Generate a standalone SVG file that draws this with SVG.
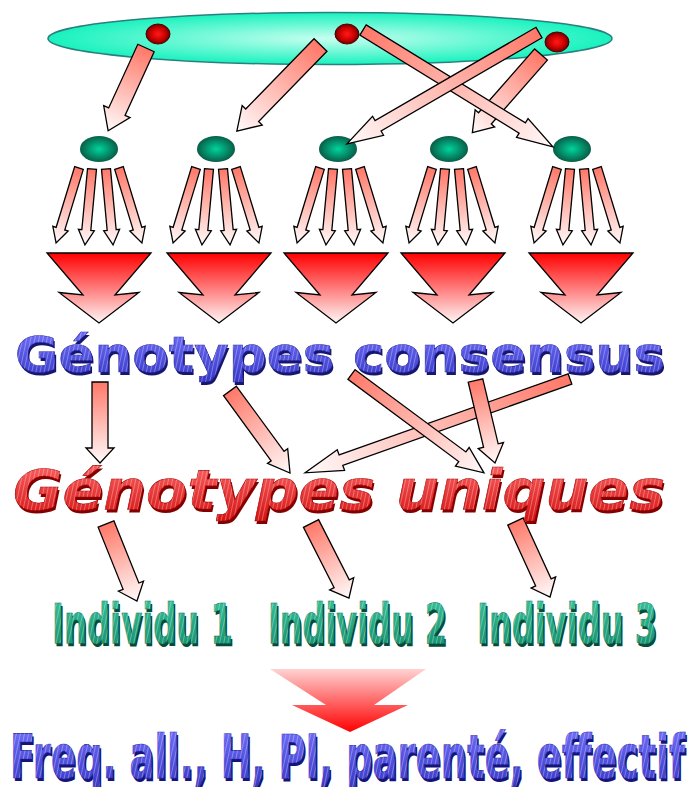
<svg xmlns="http://www.w3.org/2000/svg" width="689" height="787" viewBox="0 0 689 787">
  <style>
    .arrow { fill: url(#gArrow); stroke: #000; stroke-width: 1.3; stroke-linejoin: miter; }
    .chev { fill: url(#gChevron); stroke: #000; stroke-width: 1.3; stroke-linejoin: miter; }
    .allele { fill: url(#gAllele); stroke: #4a0000; stroke-width: 1; }
    .sample { fill: url(#gSample); }
    .wa { font-family: "DejaVu Sans", "Liberation Sans", sans-serif; font-weight: bold; }
  </style>
  <defs>
    <linearGradient id="gArrow" x1="0" y1="0" x2="1" y2="0">
      <stop offset="0" stop-color="#ff7868"/>
      <stop offset="1" stop-color="#fffafa"/>
    </linearGradient>
    <linearGradient id="gChevron" x1="0" y1="0" x2="0" y2="1">
      <stop offset="0" stop-color="#ff0000"/>
      <stop offset="1" stop-color="#fff6f6"/>
    </linearGradient>
    <linearGradient id="gFinal" x1="0" y1="0" x2="0" y2="1">
      <stop offset="0" stop-color="#ffd2d2"/>
      <stop offset="1" stop-color="#ff0000"/>
    </linearGradient>
    <radialGradient id="gPool" cx="0.5" cy="0.5" r="0.5">
      <stop offset="0" stop-color="#c8fff0"/>
      <stop offset="1" stop-color="#18f2be"/>
    </radialGradient>
    <radialGradient id="gAllele" cx="0.5" cy="0.5" r="0.5">
      <stop offset="0" stop-color="#ff1a1a"/>
      <stop offset="0.6" stop-color="#d00000"/>
      <stop offset="1" stop-color="#6a0000"/>
    </radialGradient>
    <radialGradient id="gSample" cx="0.5" cy="0.5" r="0.5">
      <stop offset="0" stop-color="#00d49c"/>
      <stop offset="1" stop-color="#075e48"/>
    </radialGradient>
    <linearGradient id="gBlue" x1="0" y1="0" x2="0" y2="1">
      <stop offset="0" stop-color="#7474ff"/>
      <stop offset="1" stop-color="#3434c4"/>
    </linearGradient>
    <linearGradient id="gRed" x1="0" y1="0" x2="0" y2="1">
      <stop offset="0" stop-color="#ff6a6a"/>
      <stop offset="1" stop-color="#d41010"/>
    </linearGradient>
    <linearGradient id="gTeal" x1="0" y1="0" x2="0" y2="1">
      <stop offset="0" stop-color="#3cc8a0"/>
      <stop offset="1" stop-color="#108a6a"/>
    </linearGradient>
    <pattern id="hatch" width="4" height="4" patternUnits="userSpaceOnUse" patternTransform="rotate(12)">
      <rect x="0" y="0" width="1" height="4" fill="#ffffff" fill-opacity="0.3"/>
    </pattern>

    <!-- four small arrows fanning out below a sample node (x relative to the node) -->
    <g id="fan">
      <polygon class="arrow" points="0,-4.5 63.4,-4.5 63.4,-8 78.4,0 63.4,8 63.4,4.5 0,4.5" transform="translate(-20,168) rotate(107)"/>
      <polygon class="arrow" points="0,-4.5 61.3,-4.5 61.3,-8 76.3,0 61.3,8 61.3,4.5 0,4.5" transform="translate(-7,169) rotate(95.3)"/>
      <polygon class="arrow" points="0,-4.5 61.3,-4.5 61.3,-8 76.3,0 61.3,8 61.3,4.5 0,4.5" transform="translate(7,169) rotate(84.7)"/>
      <polygon class="arrow" points="0,-4.5 63.4,-4.5 63.4,-8 78.4,0 63.4,8 63.4,4.5 0,4.5" transform="translate(20,168) rotate(73)"/>
    </g>
    <polygon id="chevron" class="chev" points="-52,253 52,253 16,295 40,292.5 0,323 -40,292.5 -16,295"/>

    <!-- word-art labels, rendered below as shadow + face + texture -->
    <text id="tCons" class="wa" x="15" y="372" font-size="50" textLength="650" lengthAdjust="spacingAndGlyphs">Génotypes consensus</text>
    <text id="tUniq" class="wa" x="13" y="509" font-size="56" font-style="italic" textLength="652" lengthAdjust="spacingAndGlyphs">Génotypes uniques</text>
    <text id="tInd1" class="wa" x="52" y="643" font-size="56" textLength="181" lengthAdjust="spacingAndGlyphs">Individu 1</text>
    <text id="tInd2" class="wa" x="268" y="643" font-size="56" textLength="179" lengthAdjust="spacingAndGlyphs">Individu 2</text>
    <text id="tInd3" class="wa" x="477" y="643" font-size="56" textLength="180" lengthAdjust="spacingAndGlyphs">Individu 3</text>
    <text id="tStats" class="wa" x="10" y="778" font-size="60" textLength="675" lengthAdjust="spacingAndGlyphs">Freq. all., H, PI, parenté, effectif</text>
  </defs>

  <rect width="689" height="787" fill="#ffffff"/>

  <!-- population pool with its alleles -->
  <g id="pool">
    <ellipse cx="330" cy="38.5" rx="282" ry="26" fill="url(#gPool)" stroke="#2a8080" stroke-width="1.5"/>
  </g>
  <g id="allele1"><ellipse class="allele" cx="158" cy="34" rx="12" ry="10"/></g>
  <g id="allele2"><ellipse class="allele" cx="347" cy="34" rx="12" ry="10"/></g>
  <g id="allele3"><ellipse class="allele" cx="557" cy="42" rx="12" ry="10"/></g>

  <!-- samples -->
  <g id="sample1"><ellipse class="sample" cx="99" cy="149" rx="19" ry="13"/></g>
  <g id="sample2"><ellipse class="sample" cx="216" cy="149" rx="19" ry="13"/></g>
  <g id="sample3"><ellipse class="sample" cx="338" cy="149" rx="19" ry="13"/></g>
  <g id="sample4"><ellipse class="sample" cx="449" cy="149" rx="19" ry="13"/></g>
  <g id="sample5"><ellipse class="sample" cx="572" cy="149" rx="19" ry="13"/></g>

  <!-- merge arrows under each sample -->
  <g id="merge1"><use href="#chevron" transform="translate(99,0)"/></g>
  <g id="merge2"><use href="#chevron" transform="translate(219,0)"/></g>
  <g id="merge3"><use href="#chevron" transform="translate(336,0)"/></g>
  <g id="merge4"><use href="#chevron" transform="translate(453,0)"/></g>
  <g id="merge5"><use href="#chevron" transform="translate(581,0)"/></g>

  <!-- connectors -->
  <g id="connectors">
    <!-- alleles to samples -->
    <polygon class="arrow" points="0,-9 70,-9 70,-14.5 91,0 70,14.5 70,9 0,9" transform="translate(146,48) rotate(114.6)"/>
    <polygon class="arrow" points="0,-9 98,-9 98,-14 120,0 98,14 98,9 0,9" transform="translate(320.5,45) rotate(134.2)"/>
    <polygon class="arrow" points="0,-8.5 85,-8.5 85,-13 104,0 85,13 85,8.5 0,8.5" transform="translate(541,54.5) rotate(131.3)"/>
    <polygon class="arrow" points="0,-6 187,-6 187,-11 223,0 187,11 187,6 0,6" transform="translate(363,30) rotate(31.6)"/>
    <polygon class="arrow" points="0,-6 186,-6 186,-11 222,0 186,11 186,6 0,6" transform="translate(539,32.5) rotate(149.9)"/>

    <!-- repeated runs per sample -->
    <use href="#fan" transform="translate(99,0)"/>
    <use href="#fan" transform="translate(216,0)"/>
    <use href="#fan" transform="translate(340,0)"/>
    <use href="#fan" transform="translate(452,0)"/>
    <use href="#fan" transform="translate(577,0)"/>

    <!-- consensus to unique genotypes -->
    <polygon class="arrow" points="0,-8 66,-8 66,-14 81,0 66,14 66,8 0,8" transform="translate(100,382) rotate(90)"/>
    <polygon class="arrow" points="0,-8 80.6,-8 80.6,-12.5 101.6,0 80.6,12.5 80.6,8 0,8" transform="translate(230,391) rotate(53.8)"/>
    <polygon class="arrow" points="0,-5.5 243,-5.5 243,-11 281,0 243,11 243,5.5 0,5.5" transform="translate(570,379) rotate(160.5)"/>
    <polygon class="arrow" points="0,-6 138,-6 138,-11.5 165,0 138,11.5 138,6 0,6" transform="translate(351.5,374.5) rotate(36.6)"/>
    <polygon class="arrow" points="0,-7.5 66.8,-7.5 66.8,-13 84.8,0 66.8,13 66.8,7.5 0,7.5" transform="translate(475.5,380.5) rotate(76.7)"/>

    <!-- unique genotypes to individuals -->
    <polygon class="arrow" points="0,-8.5 67,-8.5 67,-13.5 83,0 67,13.5 67,8.5 0,8.5" transform="translate(106,524) rotate(68.1)"/>
    <polygon class="arrow" points="0,-8.5 67.6,-8.5 67.6,-13.5 83.6,0 67.6,13.5 67.6,8.5 0,8.5" transform="translate(311,523.5) rotate(63)"/>
    <polygon class="arrow" points="0,-8.5 67,-8.5 67,-13.5 83,0 67,13.5 67,8.5 0,8.5" transform="translate(515.5,521.5) rotate(65.4)"/>
  </g>

  <!-- labels -->
  <g id="consensus">
    <use href="#tCons" fill="#16166e" transform="translate(1.5,3)"/>
    <use href="#tCons" fill="url(#gBlue)" stroke="#2828a0" stroke-width="0.6"/>
    <use href="#tCons" fill="url(#hatch)"/>
  </g>
  <g id="uniques">
    <use href="#tUniq" fill="#820000" transform="translate(1.5,3)"/>
    <use href="#tUniq" fill="url(#gRed)" stroke="#a00000" stroke-width="0.6"/>
    <use href="#tUniq" fill="url(#hatch)"/>
  </g>
  <g id="individu1">
    <use href="#tInd1" fill="#064a38" transform="translate(1.5,2.5)"/>
    <use href="#tInd1" fill="url(#gTeal)" stroke="#0a6a50" stroke-width="0.5"/>
    <use href="#tInd1" fill="url(#hatch)"/>
  </g>
  <g id="individu2">
    <use href="#tInd2" fill="#064a38" transform="translate(1.5,2.5)"/>
    <use href="#tInd2" fill="url(#gTeal)" stroke="#0a6a50" stroke-width="0.5"/>
    <use href="#tInd2" fill="url(#hatch)"/>
  </g>
  <g id="individu3">
    <use href="#tInd3" fill="#064a38" transform="translate(1.5,2.5)"/>
    <use href="#tInd3" fill="url(#gTeal)" stroke="#0a6a50" stroke-width="0.5"/>
    <use href="#tInd3" fill="url(#hatch)"/>
  </g>

  <!-- final step -->
  <g id="final-arrow">
    <polygon points="270,669 426,669 374,705 408,705 350,732 292,705 326,705" fill="url(#gFinal)"/>
  </g>
  <g id="statistics">
    <use href="#tStats" fill="#14147a" transform="translate(1.5,3)"/>
    <use href="#tStats" fill="url(#gBlue)" stroke="#2424a0" stroke-width="0.6"/>
    <use href="#tStats" fill="url(#hatch)"/>
  </g>
</svg>
